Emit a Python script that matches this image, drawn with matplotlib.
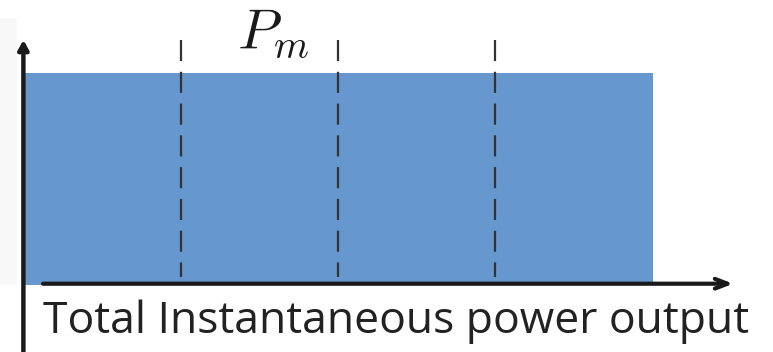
import matplotlib.pyplot as plt
from matplotlib.patches import Rectangle

plt.rcParams["mathtext.fontset"] = "cm"

# power level held over the whole horizon (normalised)
bar_start = [0.0]
bar_width = [4.0]
power_level = [1.0]

# dashed dividers between the intervals
dividers = [1.0, 2.0, 3.0]

label_pm = r"$P_m$"
xlabel = "Total Instantaneous power output"

fig = plt.figure(figsize=(7.73, 3.52), dpi=100)
ax = fig.add_axes([0, 0, 1, 1])
ax.set_xlim(-0.159, 4.764)
ax.set_ylim(-0.316, 1.344)
ax.axis("off")

# faint grey strip at the far left of the original
ax.add_patch(Rectangle((0, 0.19), 0.022, 0.76, transform=ax.transAxes,
                       color="#f8f8f8", lw=0, zorder=0))

ax.bar(bar_start, power_level, width=bar_width, align="edge",
       color="#6697ce", edgecolor="none", zorder=1)

for d in dividers:
    ax.plot([d - 0.006, d - 0.006], [1.156, 0.04], color="#333333", lw=1.6,
            linestyle=(0, (9.5, 4.8)), zorder=3)

# axes arrows
ax.annotate("", xy=(-0.01, 1.156), xytext=(-0.01, -0.33),
            arrowprops=dict(arrowstyle="-|>,head_length=0.55,head_width=0.3",
                            lw=3.2, color="#1a1a1a", shrinkA=0, shrinkB=0),
            zorder=4)
ax.annotate("", xy=(4.51, 0.006), xytext=(0.115, 0.006),
            arrowprops=dict(arrowstyle="->,head_length=0.9,head_width=0.35",
                            lw=3.0, color="#1a1a1a", shrinkA=0, shrinkB=0),
            zorder=4)

ax.text(1.35, 1.118, label_pm, fontsize=41, ha="left", va="baseline",
        color="#1a1a1a")
ax.text(0.115, -0.226, xlabel, fontsize=32, ha="left", va="baseline",
        family=["Open Sans", "DejaVu Sans"], color="#222222")

fig.savefig("out.png", dpi=100)
